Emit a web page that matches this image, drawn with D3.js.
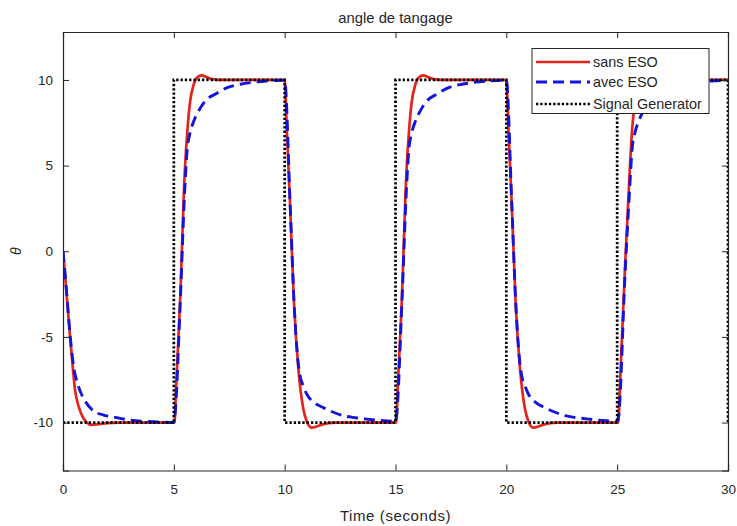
<!DOCTYPE html>
<html><head><meta charset="utf-8">
<script src="https://cdn.jsdelivr.net/npm/d3@7"></script>
<style>body{margin:0;background:#fff}svg{display:block}text{font-family:"Liberation Sans",Arial,sans-serif;fill:#262626}</style>
</head><body>
<script>
const title = "angle de tangage";
const xLabel = "Time (seconds)";
const yLabel = "θ";
const xTicks = [0,5,10,15,20,25,30];
const yTicks = [-10,-5,0,5,10];
const seriesNames = ["sans ESO","avec ESO","Signal Generator"];

const sansT = [0,0.1,0.2,0.32,0.45,0.54,0.65,0.74,0.9,1.07,1.3,1.6,2.0,2.5,5.0,
 5.03,5.1,5.28,5.5,5.62,5.73,5.9,6.05,6.25,6.5,6.8,7.2,10.0,
 10.1,10.24,10.42,10.62,10.84,11.0,11.22,11.5,11.9,12.3,15.0,
 15.03,15.1,15.28,15.5,15.62,15.73,15.9,16.05,16.25,16.5,16.8,17.2,20.0,
 20.1,20.24,20.42,20.62,20.84,21.0,21.22,21.5,21.9,22.3,25.0,
 25.05,25.12,25.35,25.57,25.68,25.8,25.95,26.1,26.3,26.55,26.85,27.3,30.0];
const sansV = [0,-1.5,-3.1,-5.0,-6.9,-8.06,-8.8,-9.2,-9.7,-10.0,-10.14,-10.1,-10.03,-10.0,-10.0,
 -10.0,-8.0,-3.0,4.8,7.2,8.7,9.75,10.15,10.27,10.15,10.03,10.0,10.0,
 7.0,2.84,-3.0,-6.9,-9.2,-9.95,-10.3,-10.2,-10.05,-10.0,-10.0,
 -10.0,-8.0,-3.0,4.8,7.2,8.7,9.75,10.15,10.27,10.15,10.03,10.0,10.0,
 7.0,2.84,-3.0,-6.9,-9.2,-9.95,-10.3,-10.2,-10.05,-10.0,-10.0,
 -10.0,-8.0,-1.05,4.8,7.2,8.7,9.75,10.15,10.27,10.15,10.03,10.0,10.0];

const avecT = [0,0.1,0.2,0.32,0.5,0.65,0.8,1.0,1.37,1.8,2.35,3.0,3.7,4.5,5.0,
 5.05,5.28,5.5,5.6,5.73,5.9,6.1,6.4,6.9,7.4,8.0,8.5,9.2,10.0,
 10.24,10.42,10.6,10.7,10.85,11.0,11.35,11.74,12.2,12.64,13.2,13.7,14.3,15.0,
 15.05,15.28,15.5,15.6,15.73,15.9,16.1,16.4,16.9,17.4,18.0,18.5,19.2,20.0,
 20.24,20.42,20.6,20.7,20.85,21.0,21.35,21.74,22.2,22.64,23.2,23.7,24.3,25.0,
 25.07,25.35,25.57,25.67,25.8,25.97,26.17,26.47,26.97,27.47,28.07,28.57,29.27,30.0];
const avecV = [0,-1.4,-3.0,-4.9,-6.9,-7.7,-8.25,-8.75,-9.32,-9.55,-9.7,-9.85,-9.93,-9.98,-10.0,
 -9.6,-3.3,3.8,5.9,6.9,7.6,8.15,8.75,9.2,9.55,9.75,9.85,9.94,9.98,
 3.0,-2.9,-6.4,-7.3,-7.9,-8.35,-8.85,-9.13,-9.4,-9.6,-9.72,-9.8,-9.88,-9.93,
 -9.6,-3.3,3.8,5.9,6.9,7.6,8.15,8.75,9.2,9.55,9.75,9.85,9.94,9.98,
 3.0,-2.9,-6.4,-7.3,-7.9,-8.35,-8.85,-9.13,-9.4,-9.6,-9.72,-9.8,-9.88,-9.93,
 -9.6,-1.5,3.8,5.9,6.9,7.6,8.15,8.75,9.2,9.55,9.75,9.85,9.94,9.98];

const sigT = [0,5,5,10,10,15,15,20,20,25,25,30,30];
const sigV = [-10,-10,10,10,-10,-10,10,10,-10,-10,10,10,-10];

const W = 737, H = 526;
const L = 63, R = 728, T = 32, B = 470.5;
const svg = d3.select("body").append("svg").attr("width", W).attr("height", H);
const x = d3.scaleLinear().domain([0,30]).range([L,R]);
const y = d3.scaleLinear().domain([-12.8,12.8]).range([B,T]);
const axisCol = "#262626";

svg.append("defs").append("clipPath").attr("id","clip")
  .append("rect").attr("x",L).attr("y",T).attr("width",R-L).attr("height",B-T);

const g = svg.append("g").attr("clip-path","url(#clip)");
const line = d3.line().x(d=>x(d[0])).y(d=>y(d[1]));
const smooth = d3.line().x(d=>x(d[0])).y(d=>y(d[1])).curve(d3.curveMonotoneX);

const redC = "#e4231d", blueC = "#1414dc";
g.append("path").datum(d3.zip(sansT,sansV)).attr("d",smooth)
  .attr("fill","none").attr("stroke",redC).attr("stroke-width",2.7);
g.append("path").datum(d3.zip(avecT,avecV)).attr("d",smooth)
  .attr("fill","none").attr("stroke",blueC).attr("stroke-width",2.9).attr("stroke-dasharray","11,6");
g.append("path").datum(d3.zip(sigT,sigV)).attr("d",line)
  .attr("fill","none").attr("stroke","#000").attr("stroke-width",2.7).attr("stroke-dasharray","2.3,2");

// axes
const fs = 13.5;
const fmt = d => String(d);
const axB = svg.append("g").attr("transform",`translate(0,${B})`)
  .call(d3.axisBottom(x).tickValues(xTicks).tickSize(-6).tickPadding(14).tickFormat(fmt));
const axT = svg.append("g").attr("transform",`translate(0,${T})`)
  .call(d3.axisTop(x).tickValues(xTicks).tickSize(-6).tickFormat(""));
const axL = svg.append("g").attr("transform",`translate(${L},0)`)
  .call(d3.axisLeft(y).tickValues(yTicks).tickSize(-6).tickPadding(10).tickFormat(fmt));
const axR = svg.append("g").attr("transform",`translate(${R},0)`)
  .call(d3.axisRight(y).tickValues(yTicks).tickSize(-6).tickFormat(""));
[axB,axT,axL,axR].forEach(a=>{
  a.select(".domain").attr("stroke",axisCol).attr("stroke-width",1.2);
  a.selectAll(".tick line").attr("stroke",axisCol).attr("stroke-width",1);
  a.selectAll("text").attr("font-size",fs).attr("font-family","Liberation Sans, Arial, sans-serif").attr("fill","#404040");
});

svg.append("text").attr("x",(L+R)/2).attr("y",23).attr("text-anchor","middle")
  .attr("font-size",14.8).text(title);
svg.append("text").attr("x",(L+R)/2).attr("y",521).attr("text-anchor","middle")
  .attr("font-size",15).attr("letter-spacing",0.6).text(xLabel);
svg.append("text").attr("transform",`translate(21,${(T+B)/2}) rotate(-90)`).attr("text-anchor","middle")
  .attr("font-size",14).attr("font-style","italic").text(yLabel);

// legend
const lg = svg.append("g");
lg.append("rect").attr("x",532).attr("y",48.5).attr("width",177).attr("height",65)
  .attr("fill","#fff").attr("stroke",axisCol).attr("stroke-width",1);
const styles = [
  {c:redC,w:2.7,d:null},
  {c:blueC,w:2.9,d:"11,6"},
  {c:"#000",w:2.7,d:"2.3,2"}];
const ly = [62,82,104];
seriesNames.forEach((n,i)=>{
  lg.append("line").attr("x1",536).attr("x2",590).attr("y1",ly[i]).attr("y2",ly[i])
    .attr("stroke",styles[i].c).attr("stroke-width",styles[i].w).attr("stroke-dasharray",styles[i].d);
  lg.append("text").attr("x",593).attr("y",ly[i]+5).attr("font-size",14.4).text(n);
});
</script>
</body></html>
